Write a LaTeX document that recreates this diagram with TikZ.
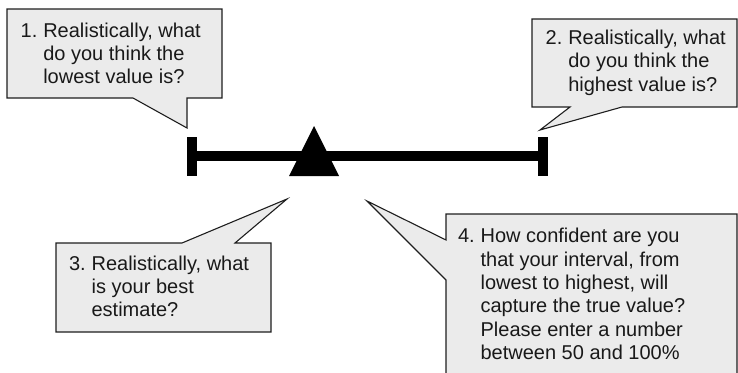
\documentclass[tikz,border=0pt]{standalone}
\usepackage{fontspec}
\setmainfont{Liberation Sans}
\definecolor{calloutfill}{RGB}{235,235,235}
\definecolor{calloutline}{RGB}{30,30,30}
\definecolor{inktext}{RGB}{25,25,25}
\begin{document}
\begin{tikzpicture}[x=1pt,y=-1pt,
  callout/.style={fill=calloutfill,draw=calloutline,line width=1.1pt,line join=miter},
  qtext/.style={anchor=base west,inner sep=0pt,outer sep=0pt,text=inktext,
    font=\fontsize{20}{23.4}\selectfont},
  barpart/.style={fill=black,draw=none}]
\useasboundingbox (0,0) rectangle (738,372);
\clip (0,0) rectangle (738,372);

% question item: number plus hanging text lines
\newcommand{\qitem}[2]{\begin{tabular}[t]{@{}l@{}l@{}}\makebox[22.6pt][l]{#1}&#2\end{tabular}}

% callout 1 (lowest value), tail pointing down to the left end
\draw[callout] (7,9) -- (222,9) -- (222,98) -- (187,98) -- (187,128)
  -- (133,98) -- (7,98) -- cycle;
% callout 2 (highest value), tail pointing down-left to the right end
\draw[callout] (532,19) -- (737,19) -- (737,107) -- (622,107) -- (540,130)
  -- (570,107) -- (532,107) -- cycle;
% callout 3 (best estimate), tail pointing up to the triangle
\draw[callout] (56,243) -- (182,243) -- (287,199) -- (235,243) -- (271,243)
  -- (271,332) -- (56,332) -- cycle;
% callout 4 (confidence), tail pointing up-left to the triangle
\draw[callout] (446,214) -- (737,214) -- (737,390) -- (446,390) -- (446,280)
  -- (367,201) -- (446,240) -- cycle;

% interval bar with end caps and the best-estimate marker
\fill[barpart] (197,151) rectangle (538,161);
\fill[barpart] (187,137) rectangle (197,176);
\fill[barpart] (538,137) rectangle (548,176);
\fill[barpart] (314,126) -- (339,176) -- (289,176) -- cycle;

\node[qtext] (q1) at (20.7,37) {\qitem{1.}{Realistically, what\\&do you think the\\&lowest value is?}};
\node[qtext] (q2) at (545.7,44.3) {\qitem{2.}{Realistically, what\\&do you think the\\&highest value is?}};
\node[qtext] (q3) at (69,270) {\qitem{3.}{Realistically, what\\&is your best\\&estimate?}};
\node[qtext] (q4) at (458,242.7) {\qitem{4.}{How confident are you\\&that your interval, from\\&lowest to highest, will\\&capture the true value?\\&Please enter a number\\&between 50 and 100\%}};
\end{tikzpicture}
\end{document}
